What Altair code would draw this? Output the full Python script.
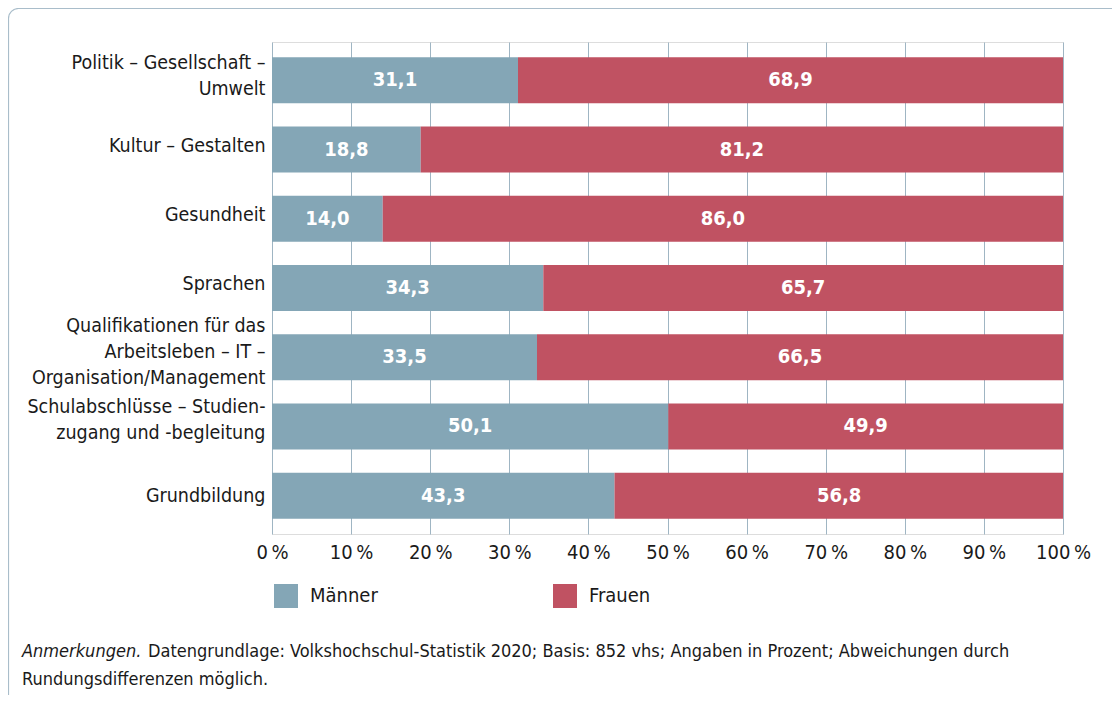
import altair as alt
import pandas as pd

FONT = "DejaVu Sans Condensed"

categories = [
    "Politik – Gesellschaft –|Umwelt",
    "Kultur – Gestalten",
    "Gesundheit",
    "Sprachen",
    "Qualifikationen für das|Arbeitsleben – IT –|Organisation/Management",
    "Schulabschlüsse – Studien-|zugang und -begleitung",
    "Grundbildung",
]
maenner = [31.1, 18.8, 14.0, 34.3, 33.5, 50.1, 43.3]
frauen = [68.9, 81.2, 86.0, 65.7, 66.5, 49.9, 56.8]
series = ["Männer", "Frauen"]
colors = ["#84a6b6", "#c05262"]
x_ticks = [0, 10, 20, 30, 40, 50, 60, 70, 80, 90, 100]
note_italic = ["Anmerkungen."]
note_line1 = ["Datengrundlage: Volkshochschul-Statistik 2020; Basis: 852 vhs; Angaben in Prozent; Abweichungen durch"]
note_line2 = ["Rundungsdifferenzen möglich."]

rows = []
for i, c in enumerate(categories):
    rows.append({"cat": c, "series": series[0], "value": maenner[i], "order": 0})
    rows.append({"cat": c, "series": series[1], "value": frauen[i], "order": 1})
df = pd.DataFrame(rows)

GRID = "#9fb5c3"
TXT = "#1a1a1a"

x_axis = alt.Axis(
    title=None, values=x_ticks, labelExpr="datum.value + '\u2009%'",
    grid=True, gridColor=GRID, gridWidth=1, domain=False, ticks=False,
    labelFont=FONT, labelFontSize=20, labelColor=TXT, labelPadding=8,
    labelFlush=False,
)
nlines = "length(split(datum.value, '|'))"
y_axis = alt.Axis(
    title=None, labelExpr="split(datum.label, '|')", labelFont=FONT,
    labelFontSize=19.5, labelColor=TXT, labelPadding=7, ticks=False,
    domain=False, labelLimit=400, labelLineHeight=26,
    labelOffset={
        "condition": [
            {"test": f"{nlines} == 3", "value": -31},
            {"test": "indexof(datum.value, 'Politik') == 0", "value": -17},
            {"test": f"{nlines} == 2", "value": -19},
            {"test": "datum.value == 'Grundbildung'", "value": 0},
        ],
        "value": -4,
    },
)
x_scale = alt.Scale(domain=[0, 100], clamp=True, nice=False)
y_scale = alt.Scale(domain=categories, paddingInner=0.335, paddingOuter=0.22)

base = alt.Chart(df).transform_stack(
    stack="value", groupby=["cat"], as_=["x0", "x1"],
    sort=[alt.SortField("order", order="ascending")],
)

bars = base.mark_bar(strokeWidth=0).encode(
    y=alt.Y("cat:N", scale=y_scale, axis=y_axis, sort=categories),
    x=alt.X("x0:Q", scale=x_scale, axis=x_axis),
    x2="x1:Q",
    color=alt.Color(
        "series:N",
        scale=alt.Scale(domain=series, range=colors),
        legend=alt.Legend(
            title=None, orient="none", legendX=2, legendY=542,
            direction="horizontal", columns=2, columnPadding=175,
            symbolType="square", symbolSize=576, symbolStrokeWidth=0,
            labelFont=FONT, labelFontSize=20, labelColor=TXT,
            labelOffset=12,
        ),
    ),
)

labels = base.transform_calculate(
    mid="(datum.x0 + datum.x1) / 2",
    lab="replace(format(datum.value, '.1f'), '.', ',')",
).mark_text(font=FONT, fontSize=20, fontWeight="bold", color="white").encode(
    y=alt.Y("cat:N", scale=y_scale, axis=y_axis, sort=categories),
    x=alt.X("mid:Q", scale=x_scale, axis=x_axis),
    text="lab:N",
)

frame = alt.Chart(pd.DataFrame({"k": [0]})).mark_rect(
    fill=None, stroke="#a9bdca", strokeWidth=1.2, cornerRadius=10
).encode(
    x=alt.value(-263.5), x2=alt.value(1000), y=alt.value(-33.5), y2=alt.value(900)
)

note_a = alt.Chart(pd.DataFrame({"t": note_italic})).mark_text(
    font=FONT, fontSize=18, fontStyle="italic", align="left", baseline="middle",
    color=TXT
).encode(x=alt.value(-250), y=alt.value(610), text="t:N")

note_b = alt.Chart(pd.DataFrame({"t": note_line1})).mark_text(
    font=FONT, fontSize=18, align="left", baseline="middle", color=TXT
).encode(x=alt.value(-124), y=alt.value(610), text="t:N")

note_c = alt.Chart(pd.DataFrame({"t": note_line2})).mark_text(
    font=FONT, fontSize=18, align="left", baseline="middle", color=TXT
).encode(x=alt.value(-250), y=alt.value(638), text="t:N")

chart = alt.layer(frame, bars, labels, note_a, note_b, note_c).properties(
    width=791, height=492,
    autosize=alt.AutoSizeParams(type="none"),
    padding={"left": 264, "top": 34, "right": 49, "bottom": 161},
).configure_view(stroke=GRID, strokeWidth=1).configure(background="white")

chart.save("out.html", embed_options={"renderer": "svg", "actions": False})
